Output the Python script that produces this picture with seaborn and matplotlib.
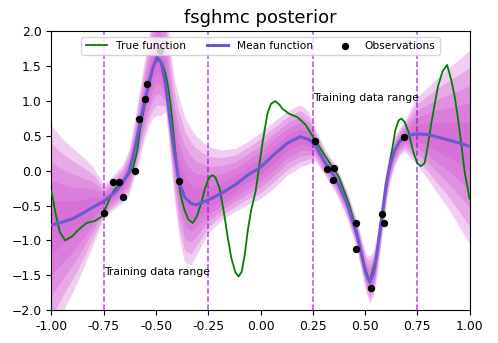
import numpy as np
import matplotlib
matplotlib.use("Agg")
import matplotlib.pyplot as plt
import seaborn as sns

# ---------- data ----------
# true function (green)
true_x = [-1.00, -0.98, -0.96, -0.935, -0.90, -0.872, -0.832, -0.792, -0.76, -0.75,
          -0.72, -0.70, -0.673, -0.64, -0.609, -0.59, -0.577, -0.56, -0.545, -0.53,
          -0.513, -0.50, -0.485, -0.47, -0.455, -0.443, -0.43, -0.419, -0.407, -0.395,
          -0.38, -0.363, -0.345, -0.324, -0.305, -0.284, -0.265, -0.252, -0.24, -0.228,
          -0.215, -0.196, -0.175, -0.157, -0.14, -0.12, -0.105, -0.09, -0.075, -0.061,
          -0.045, -0.023, 0.009, 0.033, 0.05, 0.07, 0.09, 0.105, 0.136, 0.176,
          0.216, 0.261, 0.312, 0.375, 0.423, 0.455, 0.49, 0.522, 0.555, 0.57,
          0.589, 0.605, 0.621, 0.635, 0.645, 0.66, 0.674, 0.69, 0.709, 0.72,
          0.733, 0.75, 0.767, 0.785, 0.80, 0.817, 0.833, 0.849, 0.87, 0.893,
          0.913, 0.93, 0.944, 0.96, 0.976, 1.00]
true_y = [-0.30, -0.62, -0.88, -1.00, -0.94, -0.85, -0.75, -0.72, -0.66, -0.60,
          -0.39, -0.28, -0.18, -0.09, 0.05, 0.28, 0.58, 0.85, 1.11, 1.33,
          1.49, 1.57, 1.60, 1.54, 1.40, 1.22, 0.95, 0.62, 0.25, -0.09,
          -0.38, -0.57, -0.70, -0.75, -0.66, -0.47, -0.25, -0.14, -0.08, -0.065,
          -0.10, -0.25, -0.60, -0.95, -1.25, -1.46, -1.52, -1.45, -1.20, -0.86,
          -0.57, -0.29, 0.39, 0.82, 0.96, 1.00, 0.95, 0.89, 0.82, 0.77,
          0.66, 0.44, 0.20, -0.09, -0.47, -0.81, -1.30, -1.60, -1.22, -0.90,
          -0.47, -0.15, 0.15, 0.40, 0.58, 0.72, 0.75, 0.70, 0.55, 0.40,
          0.25, 0.11, 0.065, 0.11, 0.35, 0.68, 0.95, 1.21, 1.42, 1.52,
          1.30, 1.05, 0.77, 0.40, 0.00, -0.40]

# posterior mean (slateblue) and outer band edges
post_x = [-1.00, -0.95, -0.90, -0.85, -0.80, -0.75, -0.70, -0.66, -0.63, -0.61,
          -0.59, -0.56, -0.537, -0.515, -0.495, -0.475, -0.455, -0.443, -0.425, -0.411,
          -0.39, -0.363, -0.332, -0.308, -0.25, -0.19, -0.12, -0.06, 0.00, 0.06,
          0.13, 0.19, 0.23, 0.26, 0.31, 0.36, 0.41, 0.46, 0.49, 0.505,
          0.522, 0.54, 0.555, 0.57, 0.586, 0.602, 0.62, 0.64, 0.665, 0.69,
          0.745, 0.80, 0.84, 0.90, 0.95, 1.00]
post_mean = [-0.78, -0.74, -0.69, -0.61, -0.52, -0.44, -0.32, -0.18, -0.02, 0.20,
             0.48, 0.93, 1.21, 1.48, 1.63, 1.55, 1.25, 0.97, 0.55, 0.25,
             -0.15, -0.38, -0.47, -0.49, -0.42, -0.33, -0.20, -0.06, 0.05, 0.22,
             0.40, 0.49, 0.45, 0.38, 0.11, -0.11, -0.44, -0.90, -1.29, -1.48,
             -1.60, -1.48, -1.22, -0.90, -0.55, -0.18, 0.08, 0.28, 0.42, 0.49,
             0.53, 0.52, 0.49, 0.44, 0.40, 0.35]
post_upper = [0.65, 0.47, 0.33, 0.20, 0.05, -0.20, -0.05, 0.08, 0.30, 0.60,
              0.95, 1.50, 1.90, 2.30, 2.50, 2.50, 2.40, 2.10, 1.60, 1.30,
              1.05, 0.78, 0.60, 0.50, 0.35, 0.30, 0.32, 0.42, 0.55, 0.70,
              0.86, 0.95, 0.85, 0.62, 0.30, 0.08, -0.26, -0.70, -1.05, -1.20,
              -1.22, -1.15, -0.95, -0.62, -0.30, 0.05, 0.30, 0.48, 0.62, 0.72,
              1.05, 1.20, 1.32, 1.48, 1.60, 1.73]
post_lower = [-2.40, -2.05, -1.75, -1.42, -1.05, -0.68, -0.55, -0.46, -0.35, -0.15,
              0.05, 0.40, 0.62, 0.75, 0.80, 0.80, 0.85, 0.55, 0.00, -0.45,
              -0.95, -1.32, -1.35, -1.22, -0.90, -0.72, -0.58, -0.48, -0.40, -0.26,
              -0.06, 0.05, 0.10, 0.15, -0.08, -0.32, -0.65, -1.12, -1.55, -1.75,
              -1.90, -1.80, -1.55, -1.20, -0.82, -0.45, -0.15, 0.06, 0.22, 0.28,
              0.10, -0.12, -0.30, -0.55, -0.80, -1.05]
band_levels = [1.0, 0.82, 0.63, 0.45, 0.25]

# observations
obs_x = [-0.75, -0.705, -0.677, -0.658, -0.599, -0.58, -0.553, -0.544, -0.481, -0.391,
         0.261, 0.318, 0.35, 0.347, 0.455, 0.455, 0.527, 0.583, 0.59, 0.686]
obs_y = [-0.61, -0.16, -0.16, -0.37, 0.00, 0.74, 1.03, 1.25, 1.72, -0.15,
         0.43, 0.02, 0.04, -0.14, -0.75, -1.13, -1.69, -0.62, -0.75, 0.49]

train_edges = [-0.75, -0.25, 0.25, 0.75]
label_pos = [(-0.75, -1.5), (0.25, 1.0)]

# ---------- plot ----------
fig = plt.figure(figsize=(4.98, 3.43), dpi=100)
ax = fig.add_axes([0.1034, 0.0962, 0.8394, 0.8120])

px = np.array(post_x)
pm = np.array(post_mean)
pu = np.array(post_upper)
pl = np.array(post_lower)
for lev in band_levels:
    ax.fill_between(px, pm + lev * (pl - pm), pm + lev * (pu - pm),
                    color="#d050d0", alpha=0.28, linewidth=0, zorder=1)

sns.lineplot(x=true_x, y=true_y, ax=ax, color="green", linewidth=1.3,
             label="True function", zorder=3, sort=False)
sns.lineplot(x=post_x, y=post_mean, ax=ax, color="slateblue", linewidth=2.2,
             label="Mean function", zorder=4, sort=False)
sns.scatterplot(x=obs_x, y=obs_y, ax=ax, color="black", s=28, linewidth=0,
                label="Observations", zorder=5)

for xe in train_edges:
    ax.axvline(xe, color="darkviolet", linestyle="--", linewidth=1.1, alpha=0.7, zorder=2)
for tx, ty in label_pos:
    ax.text(tx, ty, "Training data range", fontsize=7.8)

ax.set_xlim(-1, 1)
ax.set_ylim(-2, 2)
ax.set_xticks(np.arange(-1, 1.01, 0.25))
ax.xaxis.set_major_formatter(matplotlib.ticker.FormatStrFormatter("%.2f"))
ax.tick_params(labelsize=8.9)
ax.set_title("fsghmc posterior", fontsize=13)
ax.legend(loc="upper center", ncol=3, fontsize=7.7)

fig.savefig("out.png", dpi=100)
